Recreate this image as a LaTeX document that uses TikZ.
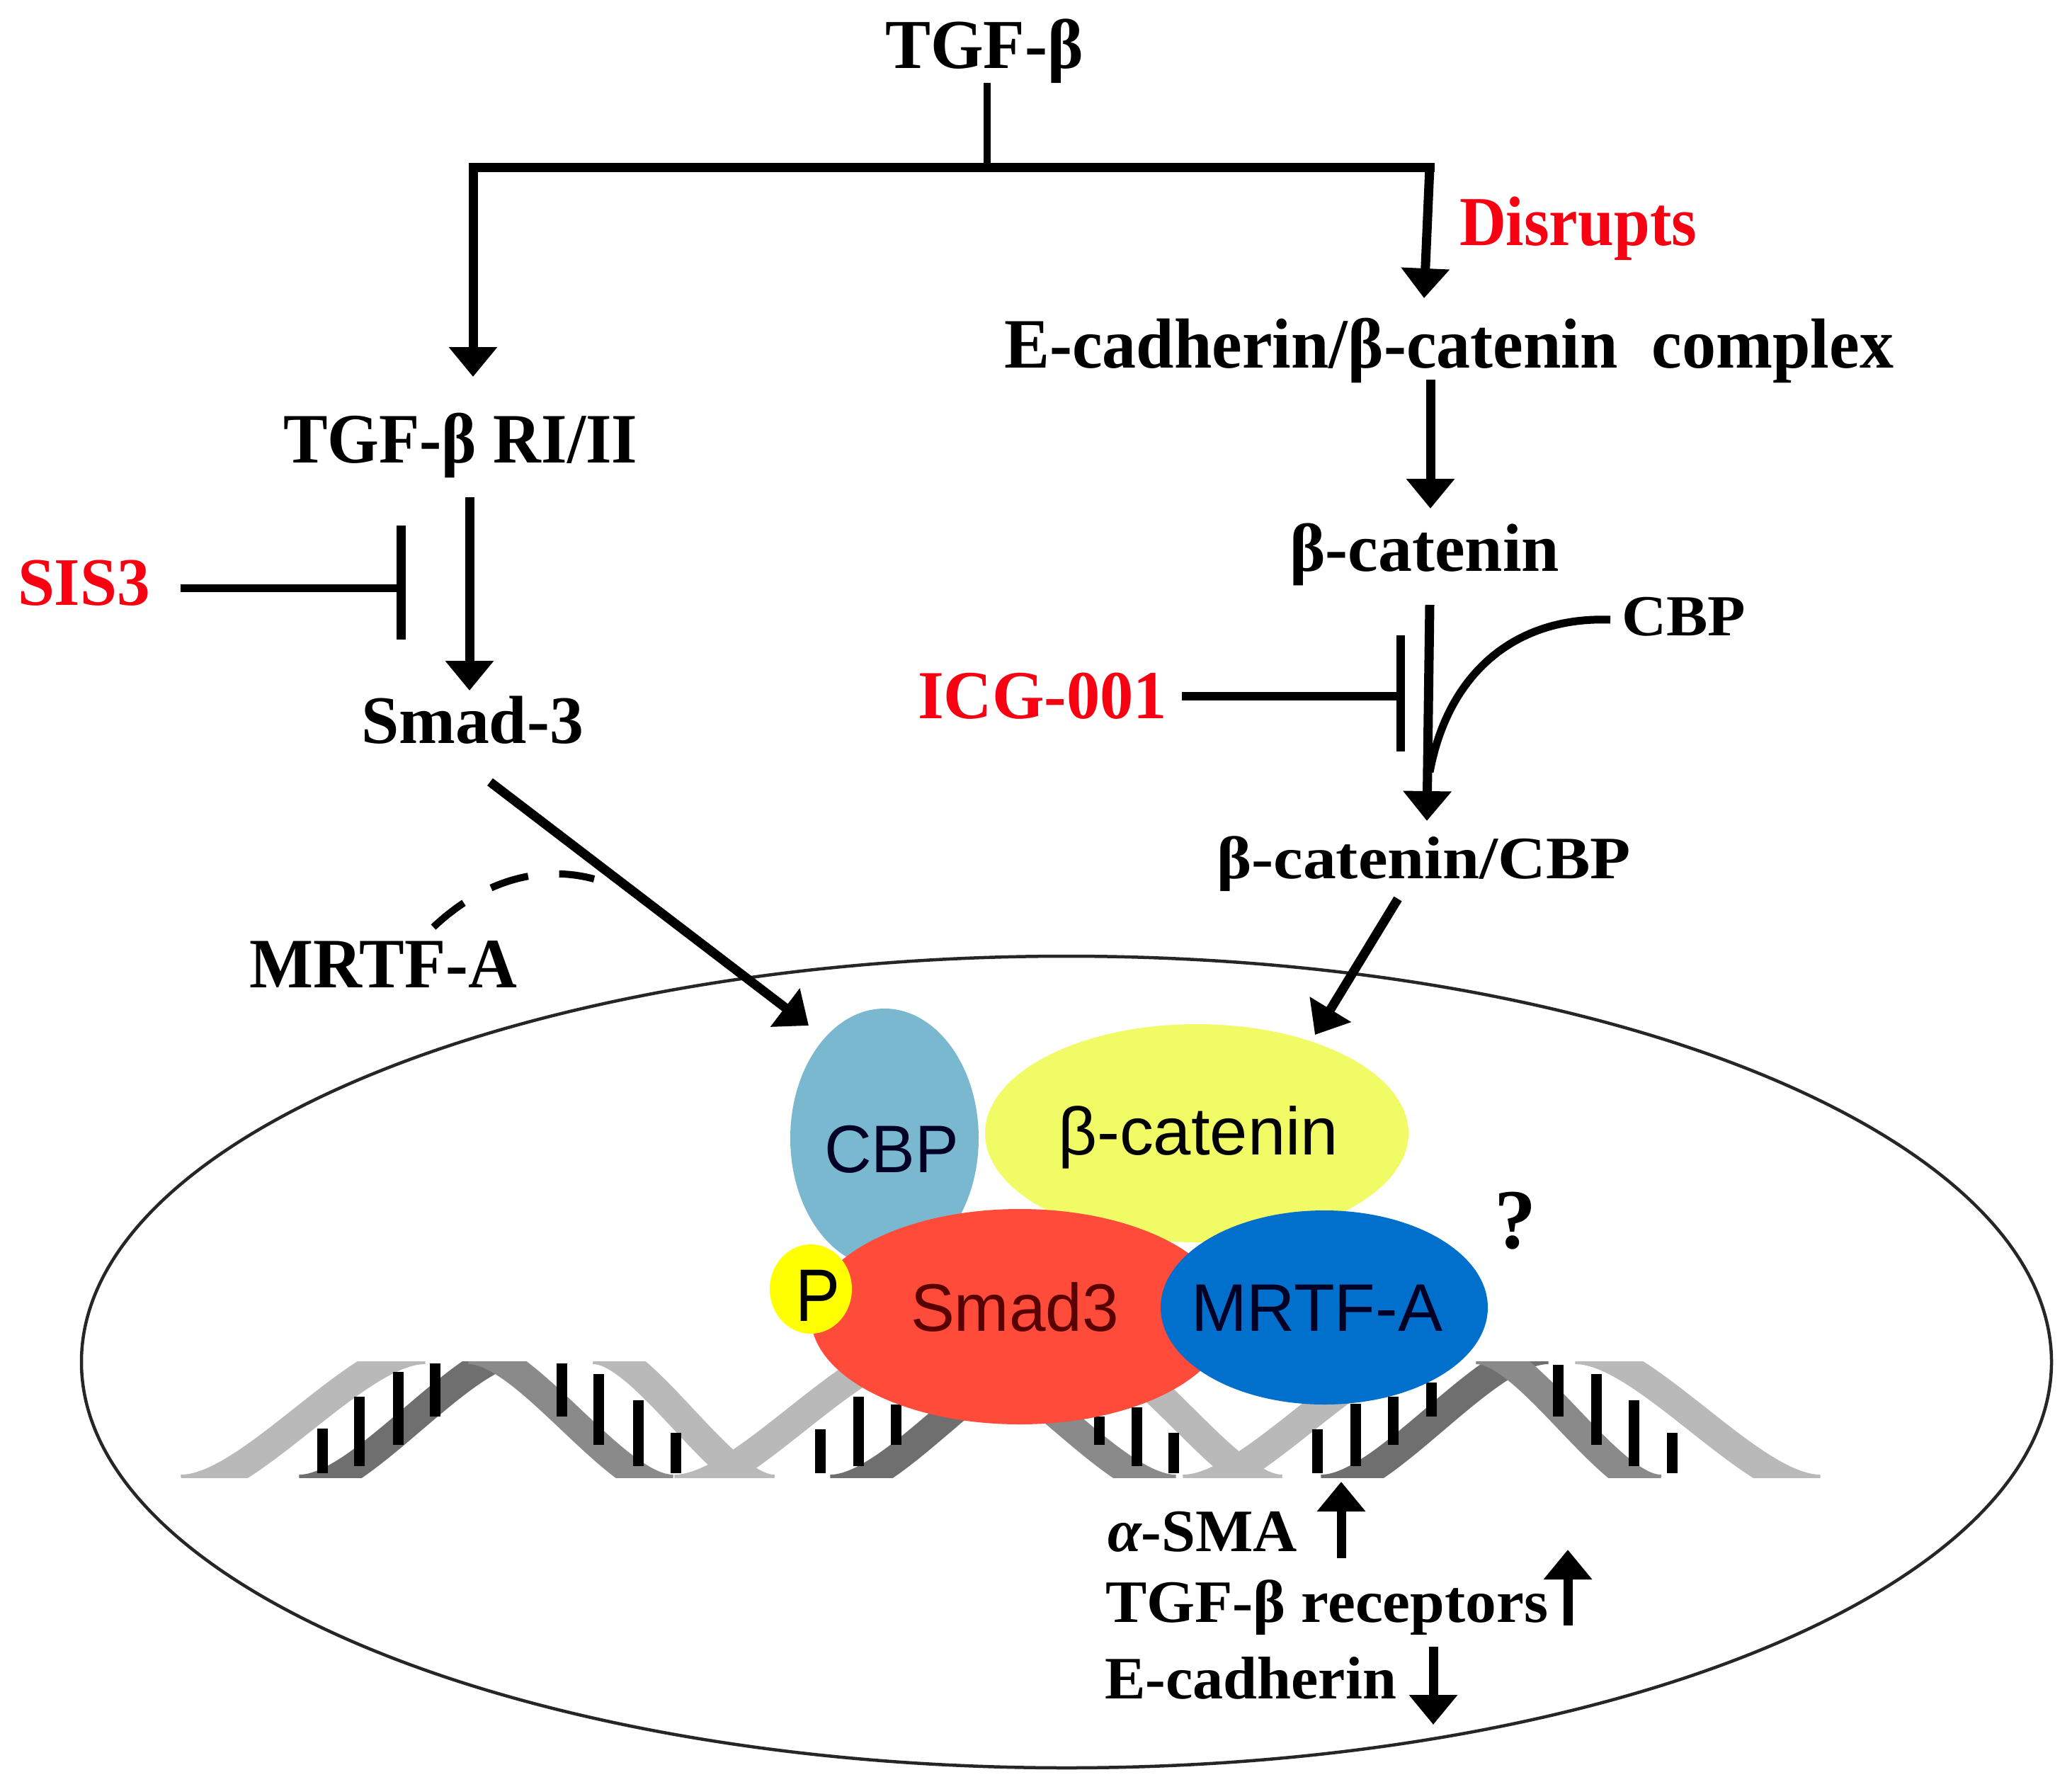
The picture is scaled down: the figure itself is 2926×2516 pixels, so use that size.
\documentclass[tikz,border=0pt]{standalone}
\usepackage{fontspec}
\usepackage{graphicx}
\setmainfont{Liberation Serif}
\setsansfont{Liberation Sans}
\usetikzlibrary{arrows.meta,shapes.geometric}
\definecolor{cbpc}{HTML}{79B8CF}
\definecolor{catc}{HTML}{F1FB66}
\definecolor{smadc}{HTML}{FF4B3A}
\definecolor{mrtfc}{HTML}{0070CC}
\definecolor{pc}{HTML}{FFFF00}
\definecolor{redt}{HTML}{F80012}
\definecolor{lightg}{HTML}{B9B9B9}
\definecolor{darkg}{HTML}{6F6F6F}
\definecolor{medg}{HTML}{8A8A8A}
% label whose left end, width and baseline are given
\newcommand{\lab}[7][black]{\node[lbl,text=#1] (#2) at (#3,#5) {\resizebox{#4pt}{\height}{\fontsize{#6}{#6}\selectfont #7}};}
\newcommand{\sband}[3]{\draw[#1,line width=40pt] (#2,2102) .. controls ({#2+0.28*(#3-(#2))},2102) and ({#3-0.28*(#3-(#2))},1906) .. (#3,1906);}
\tikzset{
  x=1pt,y=-1pt,
  lbl/.style={anchor=base west,inner sep=0pt,outer sep=0pt},
  wire/.style={line width=10pt,black},
  arr/.style={line width=13pt,black,-{Triangle[length=42pt,width=66pt]}},
  blob/.style={ellipse,inner sep=0pt,outer sep=0pt,draw=none},
  rung/.style={line width=15pt,black},
}
\begin{document}
\begin{tikzpicture}
\useasboundingbox (0,0) rectangle (2926,2516);
\fill[white] (0,0) rectangle (2926,2516);
% nucleus
\node[blob,draw=black!85,line width=4.5pt,minimum width=2782pt,minimum height=1146pt] (nucleus) at (1506,1923) {};
% DNA
\begin{scope}
\clip (200,1922) rectangle (2700,2086);
\sband{lightg}{256}{600}
\sband{lightg}{1093}{838}
\sband{lightg}{953}{1297}
\sband{lightg}{1810}{1535}
\sband{lightg}{1671}{2015}
\sband{lightg}{2570}{2225}
\sband{darkg}{423}{742}
\sband{darkg}{1173}{1492}
\sband{darkg}{1866}{2186}
\sband{medg}{950}{662}
\sband{medg}{1660}{1340}
\sband{medg}{2345}{2085}
\end{scope}
\foreach \z/\a/\b in {160/500/690,193/365/660,227/260/570,260/225/450,372/225/450,405/270/570,440/380/660,473/520/690,
  601/505/690,635/365/660,668/400/570,848/450/570,881/410/660,914/520/690,
  1041/505/690,1075/395/660,1108/365/570,1142/305/450,1254/230/450,1288/270/570,1321/380/660,1355/520/690}
  \draw[rung] ({200+1.595*\z},{1850+\a/3}) -- ({200+1.595*\z},{1850+\b/3});
% complex
\node[blob,fill=cbpc,minimum width=266pt,minimum height=366pt] (cbpE) at (1249,1607) {};
\node[blob,fill=catc,minimum width=598pt,minimum height=308pt] (catE) at (1690,1600) {};
\node[blob,fill=smadc,minimum width=590pt,minimum height=304pt] (smadE) at (1440,1859) {};
\node[blob,fill=mrtfc,minimum width=462pt,minimum height=274pt] (mrtfE) at (1870,1846) {};
\node[blob,fill=pc,minimum width=116pt,minimum height=126pt] (pE) at (1145,1820) {};
\lab[black!85!blue]{cbpT}{1164}{190}{1655}{95}{\sffamily CBP}
\lab[black]{catT}{1494}{396}{1630}{95}{\sffamily β-catenin}
\lab[black!65!red]{smadT}{1286}{294}{1879}{95}{\sffamily Smad3}
\lab[black!85!blue]{mrtfT}{1682}{355}{1879}{95}{\sffamily MRTF-A}
\lab[black]{pT}{1123}{63}{1865}{105}{\sffamily P}
% serif labels
\lab{tgf}{1250}{280}{96}{99}{\bfseries TGF-β}
\lab[redt]{disrupts}{2061}{335}{346}{99}{\bfseries Disrupts}
\lab{ecad}{1418}{1256}{519}{100}{\bfseries E-cadherin/β-catenin\ \ complex}
\lab{bcat}{1821}{381}{806}{96}{\bfseries β-catenin}
\lab{cbpL}{2290}{175}{897}{82}{\bfseries CBP}
\lab[redt]{icg}{1296}{352}{1014}{97}{\bfseries ICG-001}
\lab{bcbp}{1718}{585}{1240}{85}{\bfseries β-catenin/CBP}
\lab{rec}{400}{500}{653}{100}{\bfseries TGF-β RI/II}
\lab{smad}{510}{314}{1049}{96}{\bfseries Smad-3}
\lab[redt]{sis}{25}{187}{854}{96}{\bfseries SIS3}
\lab{mrtfL}{352}{378}{1394}{100}{\bfseries MRTF-A}
\lab{q}{2110}{59}{1762}{120}{\bfseries ?}
\lab{asma}{1564}{268}{2190}{85}{\bfseries {\itshape α}-SMA}
\lab{trec}{1561}{625}{2290}{85}{\bfseries TGF-β receptors}
\lab{ecadh}{1560}{412}{2398}{85}{\bfseries E-cadherin}
% connector ends
\coordinate (s0) at (1394,117);
\coordinate (s1) at (1394,236);
\coordinate (bl) at (668,236);
\coordinate (br) at (2019,236);
\coordinate (ltip) at (668,532);
\coordinate (rtip) at (2011,421);
\coordinate (e0) at (2020,536);
\coordinate (e1) at (2020,718);
\coordinate (c0) at (2019,854);
\coordinate (c1) at (2015,1159);
\coordinate (i0) at (1669,983);
\coordinate (i1) at (1978,983);
\coordinate (ib0) at (1978,897);
\coordinate (ib1) at (1978,1061);
\coordinate (cb0) at (2274,875);
\coordinate (cb1) at (2019,1090);
\coordinate (n0) at (1974,1269);
\coordinate (n1) at (1857,1461);
\coordinate (m0) at (692,1104);
\coordinate (m1) at (1142,1448);
\coordinate (r0) at (663,702);
\coordinate (r1) at (663,975);
\coordinate (t0) at (255,830);
\coordinate (t1) at (566,830);
\coordinate (tb0) at (566,742);
\coordinate (tb1) at (566,903);
\coordinate (d0) at (612,1309);
\coordinate (d1) at (839,1241);
\coordinate (a0) at (1894,2200);
\coordinate (a1) at (1894,2092);
\coordinate (b0) at (2214,2295);
\coordinate (b1) at (2214,2188);
\coordinate (f0) at (2024,2325);
\coordinate (f1) at (2024,2435);
% connectors
\draw[wire] (s0) -- (s1);
\draw[line width=13pt,black,line cap=rect] (bl) -- (br);
\draw[arr] (bl) -- (ltip);
\draw[arr] (br) -- (rtip);
\draw[arr] (e0) -- (e1);
\draw[arr] (r0) -- (r1);
\draw[arr] (c0) -- (c1);
\draw[line width=11pt,black] (cb0) .. controls (2140,870) and (2045,950) .. (cb1);
\draw[line width=12pt,black] (i0) -- (i1);
\draw[line width=12pt,black] (ib0) -- (ib1);
\draw[arr] (n0) -- (n1);
\draw[arr] (m0) -- (m1);
\draw[line width=11pt,black] (t0) -- (t1);
\draw[line width=13pt,black] (tb0) -- (tb1);
\draw[wire,dash pattern=on 55pt off 44pt] (d0) .. controls (680,1245) and (760,1220) .. (d1);
\draw[arr] (a0) -- (a1);
\draw[arr] (b0) -- (b1);
\draw[arr] (f0) -- (f1);
\end{tikzpicture}
\end{document}
